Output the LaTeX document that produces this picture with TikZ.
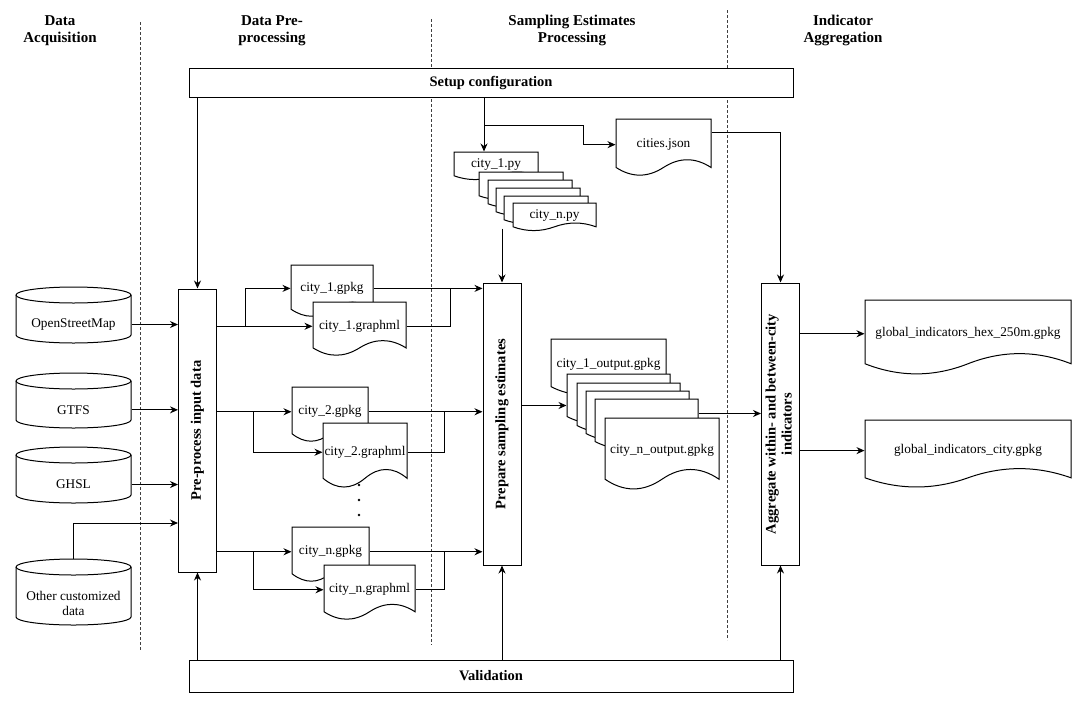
\documentclass[tikz,border=0pt]{standalone}
\usepackage{fontspec}
\setmainfont{Liberation Serif}
\usetikzlibrary{arrows.meta,calc}

% page de document (bas ondule) : nom, x, y, largeur, hauteur, texte
\newcommand{\docpage}[6]{%
  \draw[fill=white] (#2,#3) -- ({#2+#4},#3) -- ({#2+#4},{#3+0.85*#5})
    .. controls ({#2+#4*5/6},{#3+0.67*#5}) and ({#2+#4*2/3},{#3+0.67*#5}) .. ({#2+#4/2},{#3+0.85*#5})
    .. controls ({#2+#4/3},{#3+1.03*#5}) and ({#2+#4/6},{#3+1.03*#5}) .. (#2,{#3+0.85*#5}) -- cycle;
  \node[doctext,minimum width=#4,minimum height={0.9*#5}] (#1) at ({#2+#4/2},{#3+0.45*#5}) {#6};}
% base de donnees (cylindre) : nom, x, y, largeur, hauteur, texte
\newcommand{\dbcyl}[6]{%
  \draw[fill=white] (#2,{#3+8}) -- (#2,{#3+#5-8})
    arc[start angle=180,end angle=0,x radius={#4/2},y radius=8] -- ({#2+#4},{#3+8})
    arc[start angle=0,end angle=-180,x radius={#4/2},y radius=8] -- cycle;
  \draw (#2,{#3+8}) arc[start angle=180,end angle=0,x radius={#4/2},y radius=8];
  \coordinate (#1-top) at ({#2+#4/2},#3);
  \node[cyltext,minimum width=#4] (#1) at ({#2+#4/2},{#3+0.67*#5}) {#6};}

\begin{document}
\begin{tikzpicture}[x=1pt,y=-1pt,line width=1pt,
  flow/.style={-{Stealth[length=8pt,width=7pt]}},
  lane/.style={black!75,line width=0.8pt,dash pattern=on 3pt off 2pt},
  head/.style={align=center,font=\fontsize{15}{17}\selectfont\bfseries},
  bar/.style={draw,fill=white,minimum width=604pt,font=\fontsize{14.5}{17}\selectfont\bfseries},
  stage/.style={draw,fill=white,minimum width=38pt,minimum height=282pt,inner sep=0pt,font=\fontsize{14.5}{16}\selectfont\bfseries},
  doctext/.style={inner sep=1pt,font=\fontsize{13.3}{15}\selectfont},
  cyltext/.style={inner sep=1pt,align=center,font=\fontsize{13.3}{15}\selectfont}]
  \useasboundingbox (0,0) rectangle (1081,704);
  % --- titres des colonnes ---
  \node[head] (hacq) at (60,30.5) {Data\\Acquisition};
  \node[head] (hpre) at (272,30.5) {Data Pre-\\processing};
  \node[head] (hsam) at (572,30.5) {Sampling Estimates\\Processing};
  \node[head] (hagg) at (843,30.5) {Indicator\\Aggregation};
  \draw[lane] (140,22) -- (140,650);   % separations
  \draw[lane] (431,19) -- (431,645);
  \draw[lane] (727,10) -- (727,640);
  % --- barres configuration / validation ---
  \node[bar,minimum height=29pt] (setup) at (491,82.5) {Setup configuration};
  \node[bar,minimum height=32pt] (valid) at (491,676) {Validation};
  % --- etapes ---
  \node[stage,minimum height=283pt] (pre) at (197.5,430.5) {\rotatebox{90}{Pre-process input data}};
  \node[stage] (prep) at (502,424) {\rotatebox{90}{Prepare sampling estimates}};
  \node[stage] (agg) at (780.5,424) {\rotatebox{90}{\begin{tabular}{@{}c@{}}Aggregate within- and between-city\\indicators\end{tabular}}};
  % --- sources ---
  \dbcyl{osm}{16}{287}{115}{56}{OpenStreetMap}
  \dbcyl{gtfs}{16}{373}{115}{55}{GTFS}
  \dbcyl{ghsl}{16}{447}{115}{56}{GHSL}
  \dbcyl{other}{16}{559}{115}{66}{Other customized\\data}
  % --- fichiers par ville ---
  \docpage{gk1}{291}{265}{82}{52}{city\_1.gpkg}
  \docpage{gm1}{313}{302}{93}{54}{city\_1.graphml}
  \docpage{gk2}{292}{387}{76}{55}{city\_2.gpkg}
  \docpage{gm2}{323}{423}{84}{65}{city\_2.graphml}
  \docpage{gkn}{292}{527}{77}{55}{city\_n.gpkg}
  \docpage{gmn}{324}{565}{91}{55}{city\_n.graphml}
  \fill (359,485) circle (1.4) (359,500) circle (1.4) (359,515) circle (1.4);
  % scripts et config
  \docpage{py1}{454}{152}{84}{28}{city\_1.py}
  \docpage{py2}{479}{172}{84}{28}{}
  \docpage{py3}{488}{180}{84}{28}{}
  \docpage{py4}{496}{188}{84}{28}{}
  \docpage{py5}{504}{196}{84}{28}{}
  \docpage{pyn}{513}{203}{83}{28}{city\_n.py}
  \docpage{cities}{616}{119}{95}{57}{cities.json}
  % sorties
  \docpage{out1}{551}{339}{115}{56}{city\_1\_output.gpkg}
  \docpage{out2}{567}{374}{103}{50}{}
  \docpage{out3}{577}{383}{103}{50}{}
  \docpage{out4}{586}{391}{103}{50}{}
  \docpage{out5}{595}{399}{103}{50}{}
  \docpage{outn}{605}{418}{114}{72}{city\_n\_output.gpkg}
  \docpage{hex}{865}{300}{206}{75}{global\_indicators\_hex\_250m.gpkg}
  \docpage{cityind}{865}{420}{206}{68}{global\_indicators\_city.gpkg}
  % --- connexions ---
  \draw[flow] (setup.south -| pre.north) -- (pre.north);
  \coordinate (tap) at (484,125);
  \coordinate (bend) at (583,125);
  \draw[flow] (setup.south -| tap) -- (tap |- py1.north);
  \draw[flow] (tap) -- (bend) |- (cities.west);
  \draw[flow] ([yshift=12pt]cities.east) -| (agg.north);
  \draw[flow] (pyn.south -| prep.north) -- (prep.north);
  \draw[flow] (valid.north -| pre.south) -- (pre.south);
  \draw[flow] (valid.north -| prep.south) -- (prep.south);
  \draw[flow] (valid.north -| agg.south) -- (agg.south);
  \draw[flow] (osm.east) -- (osm.east -| pre.west);
  \draw[flow] (gtfs.east) -- (gtfs.east -| pre.west);
  \draw[flow] (ghsl.east) -- (ghsl.east -| pre.west);
  \draw[flow] (other-top) |- (pre.west |- 0,523);
  % pre-traitement -> fichiers
  \coordinate (s1) at (gm1.west -| 245,0);
  \coordinate (s2) at (gk2.west -| 253,0);
  \coordinate (sn) at (gkn.west -| 253,0);
  \draw[flow] (pre.east |- gm1.west) -- (gm1.west);
  \draw[flow] (s1) |- (gk1.west);
  \draw[flow] (pre.east |- gk2.west) -- (gk2.west);
  \draw[flow] (s2) |- (gm2.west);
  \draw[flow] (pre.east |- gkn.west) -- (gkn.west);
  \draw[flow] (sn) |- (gmn.west);
  % fichiers -> estimations
  \coordinate (j1) at (gk1.east -| 450,0);
  \coordinate (j2) at (gk2.east -| 444,0);
  \coordinate (jn) at (gkn.east -| 444,0);
  \draw[flow] (gk1.east) -- (gk1.east -| prep.west);
  \draw (gm1.east) -| (j1);
  \draw[flow] (gk2.east) -- (gk2.east -| prep.west);
  \draw (gm2.east) -| (j2);
  \draw[flow] (gkn.east) -- (gkn.east -| prep.west);
  \draw (gmn.east) -| (jn);
  % estimations -> sorties -> agregation
  \draw[flow] (prep.east |- out3.west) -- (out2.west |- out3.west);
  \draw[flow] (out5.east |- out4.east) -- (agg.west |- out4.east);
  \draw[flow] (agg.east |- hex.west) -- (hex.west);
  \draw[flow] (agg.east |- cityind.west) -- (cityind.west);
\end{tikzpicture}
\end{document}
